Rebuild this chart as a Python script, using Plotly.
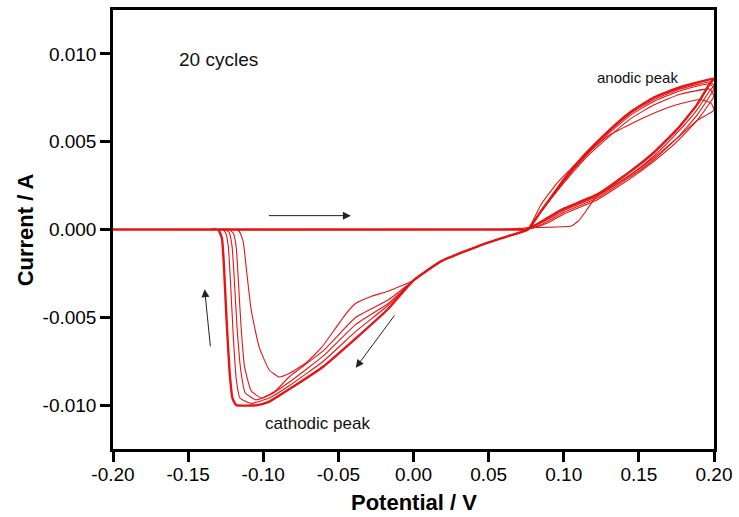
import plotly.graph_objects as go

# Potential (V) and current (A) for representative cycles of the 20-cycle CV
cycle1_v = [-0.200, 0.060, 0.076, 0.105, 0.110, 0.116, 0.122, 0.135, 0.1443, 0.1602, 0.1754, 0.1886, 0.200,
            0.198, 0.1906, 0.175, 0.1623, 0.1443, 0.129, 0.1113, 0.0961, 0.0847, 0.0761, 0.062, 0.0477, 0.0185, 0.0,
            -0.0166, -0.0278, -0.0384, -0.045, -0.0517, -0.061, -0.0716, -0.0828, -0.0894, -0.096, -0.1027,
            -0.108, -0.1113, -0.1133, -0.116, -0.119, -0.125, -0.200]
cycle1_i = [0.0, 0.0, 0.0001, 0.0002, 0.0005, 0.0012, 0.0019, 0.0026, 0.0031, 0.0041, 0.0052, 0.0062, 0.0068,
            0.0072, 0.0074, 0.0071, 0.0067, 0.0060, 0.0053, 0.0040, 0.0027, 0.0014, 0.0, -0.0004, -0.0008, -0.0018, -0.0029,
            -0.0035, -0.0038, -0.0042, -0.0048, -0.0056, -0.0067, -0.0076, -0.0082, -0.0084, -0.0080, -0.0067,
            -0.0046, -0.0022, -0.0007, -0.0001, 0.0, 0.0, 0.0]

cycle2_v = [-0.200, 0.065, 0.074, 0.080, 0.090, 0.1005, 0.1224, 0.1443, 0.1602, 0.1754, 0.1886, 0.1972, 0.200,
            0.1972, 0.1774, 0.1602, 0.1443, 0.129, 0.1138, 0.1005, 0.0847, 0.0761, 0.062, 0.0477, 0.0185, 0.0,
            -0.0166, -0.0384, -0.060, -0.0828, -0.092, -0.101, -0.108, -0.1125, -0.1148, -0.1165, -0.118, -0.120, -0.123,
            -0.130, -0.200]
cycle2_i = [0.0, 0.0, 0.0, 0.0001, 0.0004, 0.0009, 0.0017, 0.0029, 0.0039, 0.0050, 0.0062, 0.0072, 0.0076,
            0.0080, 0.0077, 0.0071, 0.0063, 0.0052, 0.0040, 0.0027, 0.0010, 0.0, -0.0004, -0.0008, -0.0018, -0.0029,
            -0.0040, -0.0050, -0.0069, -0.0084, -0.0092, -0.0096, -0.0092, -0.0078, -0.0055, -0.0030, -0.0010, -0.0002, 0.0,
            0.0, 0.0]

cycle3_v = [-0.200, 0.065, 0.074, 0.080, 0.090, 0.1005, 0.1224, 0.1443, 0.1602, 0.1754, 0.1886, 0.1972, 0.200,
            0.1972, 0.1774, 0.1602, 0.1443, 0.129, 0.1138, 0.1005, 0.0847, 0.0761, 0.062, 0.0477, 0.0185, 0.0,
            -0.0166, -0.0384, -0.060, -0.0828, -0.095, -0.105, -0.112, -0.115, -0.1175, -0.1193, -0.1207, -0.1225, -0.125,
            -0.132, -0.200]
cycle3_i = [0.0, 0.0, 0.0, 0.0001, 0.0005, 0.0010, 0.0018, 0.0030, 0.0040, 0.0052, 0.0065, 0.0076, 0.0080,
            0.0083, 0.0079, 0.0073, 0.0065, 0.0054, 0.0041, 0.0028, 0.0010, 0.0, -0.0004, -0.0008, -0.0018, -0.0029,
            -0.0042, -0.0054, -0.0072, -0.0087, -0.0094, -0.0097, -0.0093, -0.0080, -0.0055, -0.0028, -0.0010, -0.0002, 0.0,
            0.0, 0.0]

cycle4_v = [-0.200, 0.065, 0.074, 0.080, 0.090, 0.1005, 0.1224, 0.1443, 0.1602, 0.1754, 0.1886, 0.1972, 0.200,
            0.1972, 0.1774, 0.1602, 0.1443, 0.129, 0.1138, 0.1005, 0.0847, 0.0761, 0.062, 0.0477, 0.0185, 0.0,
            -0.0166, -0.0384, -0.060, -0.0828, -0.096, -0.108, -0.1155, -0.118, -0.120, -0.1218, -0.1232, -0.125, -0.127,
            -0.134, -0.200]
cycle4_i = [0.0, 0.0, 0.0, 0.0002, 0.0006, 0.0011, 0.0019, 0.0031, 0.0042, 0.0055, 0.0068, 0.0079, 0.0082,
            0.0084, 0.0080, 0.0074, 0.0066, 0.0055, 0.0042, 0.0028, 0.0010, 0.0, -0.0004, -0.0008, -0.0018, -0.0029,
            -0.0043, -0.0058, -0.0075, -0.0089, -0.0096, -0.0099, -0.0096, -0.0085, -0.0060, -0.0030, -0.0010, -0.0002, 0.0,
            0.0, 0.0]

# later cycles (5-20) overlap into one thick band
cycles5_20_v = [-0.200, 0.065, 0.074, 0.080, 0.090, 0.1005, 0.1224, 0.1443, 0.1602, 0.1754, 0.1886, 0.1972, 0.200,
                0.1972, 0.1774, 0.1602, 0.1443, 0.129, 0.1138, 0.1005, 0.0847, 0.0761, 0.062, 0.0477, 0.0185, 0.0,
                -0.0166, -0.0384, -0.060, -0.0828, -0.096, -0.104, -0.118, -0.1205, -0.1225, -0.1245, -0.1262, -0.1275, -0.130,
                -0.137, -0.200]
cycles5_20_i = [0.0, 0.0, 0.0, 0.0002, 0.0007, 0.0012, 0.0020, 0.0033, 0.0044, 0.0057, 0.0071, 0.0083, 0.0086,
                0.00855, 0.0081, 0.00753, 0.00668, 0.00555, 0.00425, 0.00289, 0.00102, 0.0, -0.0004, -0.0008, -0.0018, -0.0029,
                -0.0045, -0.0062, -0.0078, -0.0091, -0.0098, -0.0100, -0.0100, -0.0096, -0.0080, -0.0050, -0.0020, -0.0005, 0.0,
                0.0, 0.0]

x_ticks = [-0.20, -0.15, -0.10, -0.05, 0.00, 0.05, 0.10, 0.15, 0.20]
x_labels = ["-0.20", "-0.15", "-0.10", "-0.05", "0.00", "0.05", "0.10", "0.15", "0.20"]
y_ticks = [-0.010, -0.005, 0.000, 0.005, 0.010]
y_labels = ["-0.010", "-0.005", "0.000", "0.005", "0.010"]

RED = "rgb(230,20,20)"
FONT = "Liberation Sans, Arial, sans-serif"

fig = go.Figure()
series = [
    (cycles5_20_v, cycles5_20_i, 2.4),
    (cycle4_v, cycle4_i, 1.1),
    (cycle3_v, cycle3_i, 1.1),
    (cycle2_v, cycle2_i, 1.1),
    (cycle1_v, cycle1_i, 1.1),
]
for v, i, w in series:
    fig.add_trace(go.Scatter(x=v, y=i, mode="lines",
                             line=dict(color=RED, width=w, shape="spline", smoothing=0.4),
                             showlegend=False, hoverinfo="skip"))

axis_common = dict(showline=True, linecolor="black", linewidth=2.5, mirror=True,
                   ticks="outside", ticklen=10, tickwidth=2.5, tickcolor="black",
                   showgrid=False, zeroline=False,
                   tickfont=dict(family=FONT, size=19, color="black"))

fig.update_layout(
    width=739, height=517,
    margin=dict(l=113, r=22, t=7, b=68),
    paper_bgcolor="white", plot_bgcolor="white",
    xaxis=dict(range=[-0.2, 0.2], tickmode="array", tickvals=x_ticks, ticktext=x_labels,
               ticklabelstandoff=-4, **axis_common),
    yaxis=dict(range=[-0.0125, 0.0125], tickmode="array", tickvals=y_ticks, ticktext=y_labels, **axis_common),
    font=dict(family=FONT, color="black"),
)

annotations = [
    dict(text="<b>Potential / V</b>", xref="paper", yref="paper", x=0.5, y=-0.121,
         showarrow=False, font=dict(size=22, family=FONT), xanchor="center", yanchor="middle"),
    dict(text="<b>Current / A</b>", xref="paper", yref="paper", x=-0.145, y=0.5, textangle=-90,
         showarrow=False, font=dict(size=22, family=FONT), xanchor="center", yanchor="middle"),
    dict(text="20 cycles", x=-0.1576, y=0.00968, xanchor="left", yanchor="middle",
         showarrow=False, font=dict(size=19, family=FONT, color="#111")),
    dict(text="anodic peak", x=0.1205, y=0.00866, xanchor="left", yanchor="middle",
         showarrow=False, font=dict(size=15, family=FONT, color="#111")),
    dict(text="cathodic peak", x=-0.1, y=-0.01104, xanchor="left", yanchor="middle",
         showarrow=False, font=dict(size=17, family=FONT, color="#111")),
]
arrows = [
    ((-0.0417, 0.00079), (-0.0973, 0.00079)),
    ((-0.139, -0.0034), (-0.1351, -0.00674)),
    ((-0.0384, -0.00787), (-0.0119, -0.00481)),
]
for (hx, hy), (tx, ty) in arrows:
    annotations.append(dict(x=hx, y=hy, ax=tx, ay=ty, xref="x", yref="y", axref="x", ayref="y",
                            text="", showarrow=True, arrowhead=2, arrowsize=1.6, arrowwidth=1,
                            arrowcolor="#222"))
fig.update_layout(annotations=annotations)

fig.write_html("out.html")
